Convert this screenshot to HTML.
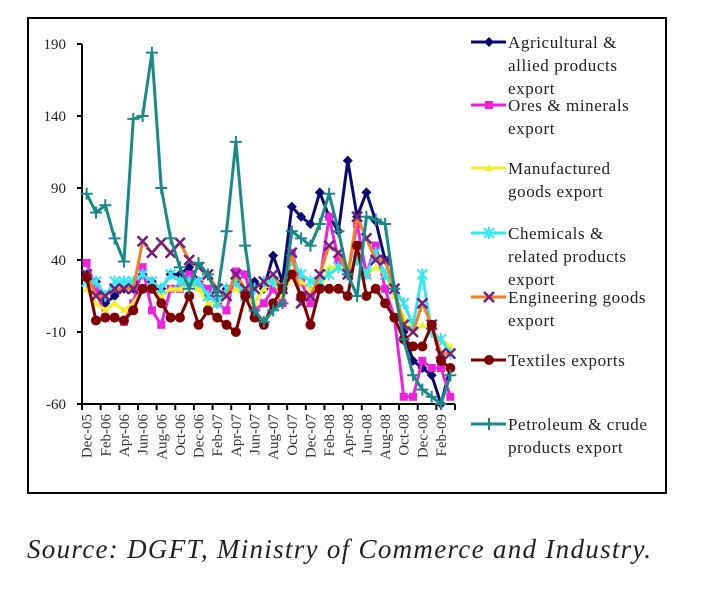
<!DOCTYPE html>
<html><head><meta charset="utf-8"><style>
body{margin:0;background:#fff;width:710px;height:596px;overflow:hidden;font-family:"Liberation Serif",serif}
#frame{position:absolute;left:27px;top:17px;width:636px;height:473px;border:2px solid #000}
.src{position:absolute;left:27px;top:534px;font-style:italic;font-size:27px;letter-spacing:1.3px;color:#222}
</style></head><body>
<div id="frame"></div>
<svg id="c" width="710" height="596" style="position:absolute;left:0;top:0"></svg>
<div class="src">Source: DGFT, Ministry of Commerce and Industry.</div>
<script>
const months=["Dec-05","Jan-06","Feb-06","Mar-06","Apr-06","May-06","Jun-06","Jul-06","Aug-06","Sep-06","Oct-06","Nov-06","Dec-06","Jan-07","Feb-07","Mar-07","Apr-07","May-07","Jun-07","Jul-07","Aug-07","Sep-07","Oct-07","Nov-07","Dec-07","Jan-08","Feb-08","Mar-08","Apr-08","May-08","Jun-08","Jul-08","Aug-08","Sep-08","Oct-08","Nov-08","Dec-08","Jan-09","Feb-09","Mar-09"];
const yTicks=[190,140,90,40,-10,-60];
const agri=[30,25,10,15,20,20,30,25,20,30,30,35,25,15,10,20,25,15,25,20,43,25,77,70,65,87,70,60,109,70,87,67,40,20,-10,-30,-35,-40,-60,-35];
const ores=[38,20,0,0,-3,10,35,5,-5,20,20,30,25,20,10,5,32,30,5,10,20,10,45,25,10,25,70,40,30,65,30,50,20,0,-55,-55,-30,-35,-35,-55];
const manuf=[20,10,5,10,5,10,20,20,15,20,20,25,20,10,10,15,20,15,10,20,25,15,30,25,20,20,35,35,35,40,30,35,30,15,0,-10,-5,-10,-15,-20];
const chem=[25,25,15,25,25,25,30,25,20,30,25,25,25,15,10,20,25,15,20,25,25,20,40,30,25,25,30,35,30,40,30,45,30,20,10,-5,30,-10,-15,-25];
const engg=[30,15,15,20,20,20,53,45,52,45,52,40,35,30,20,15,30,20,20,25,30,20,45,10,15,30,50,45,30,70,55,40,40,20,-5,-10,10,-5,-25,-25];
const textiles=[28,-2,0,0,-2,5,20,20,10,0,0,15,-5,5,0,-5,-10,15,0,-5,10,20,30,15,-5,20,20,20,15,50,15,20,10,0,-15,-20,-20,-5,-30,-35];
const petro=[86,73,78,55,39,138,140,184,90,55,35,20,38,30,15,60,122,50,5,-3,5,10,60,55,50,65,86,60,30,15,70,68,65,20,-15,-40,-50,-55,-60,-40];
const svg=document.getElementById('c');const NS='http://www.w3.org/2000/svg';
function mk(t,a,p){const e=document.createElementNS(NS,t);for(const k in a)e.setAttribute(k,a[k]);(p||svg).appendChild(e);return e;}
const x0=82,x1=455,yT=44,yB=404;
const bw=(x1-x0)/months.length;
const X=i=>x0+bw*(i+0.5);
const Y=v=>yB-(v+60)*(yB-yT)/250;
const ax=mk('g',{});


mk('line',{x1:x0,y1:yT,x2:x0,y2:yB,stroke:'#000','stroke-width':2},ax);
mk('line',{x1:x0,y1:yB,x2:x1,y2:yB,stroke:'#000','stroke-width':2},ax);
yTicks.forEach(v=>{mk('line',{x1:x0-5,y1:Y(v),x2:x0,y2:Y(v),stroke:'#000','stroke-width':2},ax);
const t=mk('text',{x:x0-16,y:Y(v)+5,'text-anchor':'end','font-size':15,fill:'#222'},ax);t.textContent=v;

});
for(let i=0;i<=months.length;i+=2){mk('line',{x1:x0+bw*i,y1:yB,x2:x0+bw*i,y2:yB+6,stroke:'#000','stroke-width':2},ax);}
months.forEach((m,i)=>{if(i%2)return;const t=mk('text',{transform:`translate(${X(i)+5},${yB+10}) rotate(-90)`,'text-anchor':'end','font-size':15,fill:'#333'},ax);t.textContent=m;

});
function marker(g,type,x,y,c,c2){
 if(type==='diamond')mk('polygon',{points:`${x},${y-5} ${x+5},${y} ${x},${y+5} ${x-5},${y}`,fill:c},g);
 else if(type==='square')mk('rect',{x:x-4,y:y-4,width:8,height:8,fill:c},g);
 else if(type==='tri')mk('polygon',{points:`${x},${y-4} ${x+4},${y+3} ${x-4},${y+3}`,fill:c},g);
 else if(type==='ast'){mk('path',{d:`M${x-5},${y-5}L${x+5},${y+5}M${x+5},${y-5}L${x-5},${y+5}M${x},${y-6}L${x},${y+6}`,stroke:c,'stroke-width':2},g);}
 else if(type==='x'){mk('path',{d:`M${x-5},${y-5}L${x+5},${y+5}M${x+5},${y-5}L${x-5},${y+5}`,stroke:c2,'stroke-width':2.5},g);}
 else if(type==='circle')mk('circle',{cx:x,cy:y,r:5,fill:c},g);
 else if(type==='plus')mk('path',{d:`M${x-6},${y}L${x+6},${y}M${x},${y-6}L${x},${y+6}`,stroke:c,'stroke-width':2},g);
}
const series=[
 {name:'agri',d:agri,c:'#0a0a70',m:'diamond',lab:['Agricultural &','allied products','export'],ly:42},
 {name:'ores',d:ores,c:'#ee22dd',m:'square',lab:['Ores & minerals','export'],ly:105},
 {name:'manufactured',d:manuf,c:'#f5f020',m:'tri',lab:['Manufactured','goods export'],ly:168},
 {name:'chemicals',d:chem,c:'#33e8ee',m:'ast',lab:['Chemicals &','related products','export'],ly:233},
 {name:'engineering',d:engg,c:'#f08020',c2:'#702080',m:'x',lab:['Engineering goods','export'],ly:297},
 {name:'textiles',d:textiles,c:'#800000',m:'circle',lab:['Textiles  exports'],ly:360},
 {name:'petroleum',d:petro,c:'#1a8a88',m:'plus',lab:['Petroleum & crude','products export'],ly:424}
];
series.forEach(s=>{
 const g=mk('g',{});
 
 
 mk('polyline',{points:s.d.map((v,i)=>X(i)+','+Y(v)).join(' '),fill:'none',stroke:s.c,'stroke-width':3,'stroke-linejoin':'round'},g);
 s.d.forEach((v,i)=>marker(g,s.m,X(i),Y(v),s.c,s.c2));
 const lg=mk('g',{});
 
 
 mk('line',{x1:471,y1:s.ly,x2:506,y2:s.ly,stroke:s.c,'stroke-width':3},lg);
 marker(lg,s.m,489,s.ly,s.c,s.c2);
 s.lab.forEach((l,k)=>{const t=mk('text',{x:508,y:s.ly+6+k*23,'font-size':17,'letter-spacing':0.6,fill:'#222'},lg);t.textContent=l;});
});
</script>
</body></html>
